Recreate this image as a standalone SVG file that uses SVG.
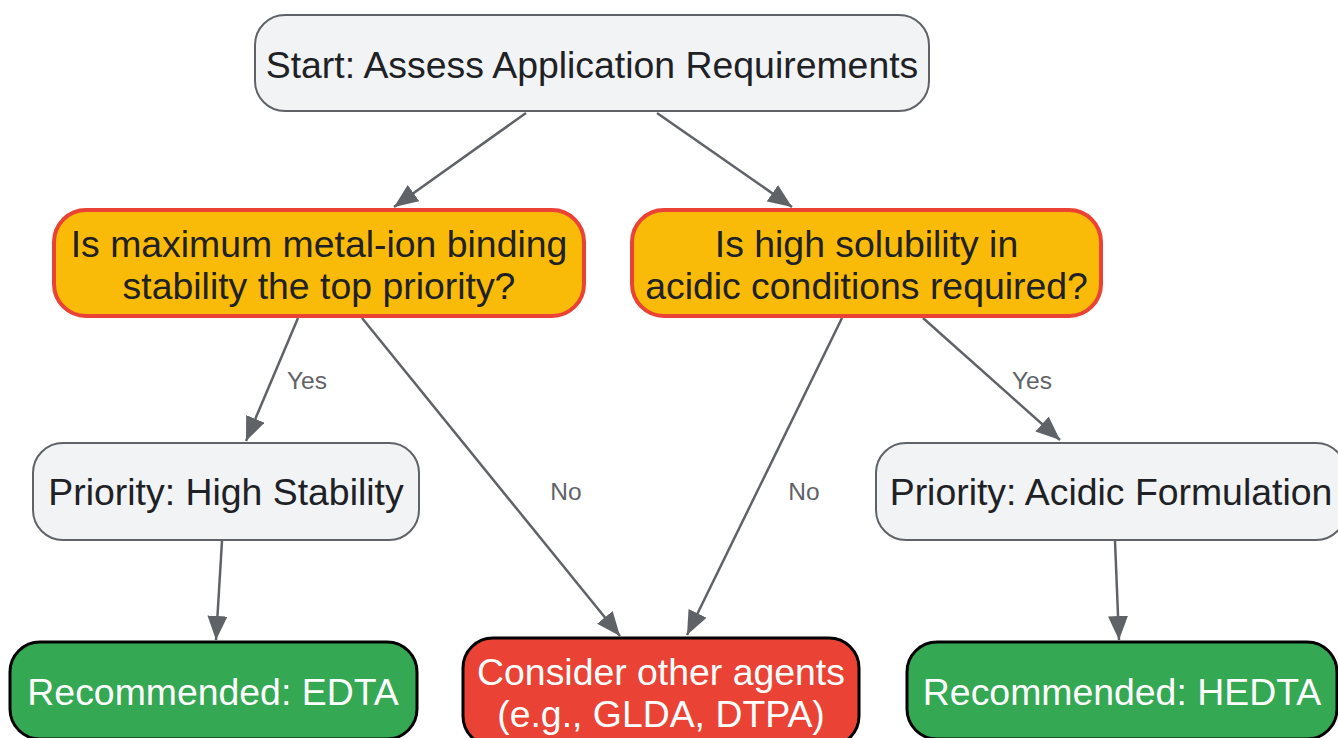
<svg xmlns="http://www.w3.org/2000/svg" width="1338" height="738" viewBox="0 0 1338 738">
<style>
  .gray { fill: #f1f3f5; stroke: #5f6368; stroke-width: 2; }
  .dec { fill: #f9bb07; stroke: #ea4335; stroke-width: 4; }
  .ok { fill: #34a853; stroke: #000000; stroke-width: 3; }
  .alt { fill: #ea4335; stroke: #000000; stroke-width: 3; }
  text { font-family: "Liberation Sans", Arial, sans-serif; font-size: 37.4px; text-anchor: middle; }
  .dark { fill: #202124; }
  .light { fill: #ffffff; }
  .lbl { font-size: 24.5px; fill: #5f6368; }
  .edge { fill: none; stroke: #5f6368; stroke-width: 2.5; marker-end: url(#arr); }
</style>
<defs>
  <marker id="arr" viewBox="0 0 24 20" refX="24" refY="10" markerWidth="24" markerHeight="20" markerUnits="userSpaceOnUse" orient="auto">
    <path d="M0,0 L24,10 L0,20 Z" fill="#5f6368"/>
  </marker>
</defs>
<rect width="1338" height="738" fill="#ffffff"/>
<g id="connectors">
  <line class="edge" x1="526" y1="113" x2="394" y2="207"/>
  <line class="edge" x1="657" y1="113" x2="792" y2="207"/>
  <line class="edge" x1="298" y1="318" x2="246" y2="441"/>
  <line class="edge" x1="362" y1="318" x2="620" y2="636"/>
  <line class="edge" x1="842" y1="318" x2="687" y2="635"/>
  <line class="edge" x1="923" y1="318" x2="1060" y2="440"/>
  <line class="edge" x1="222" y1="541" x2="216" y2="640"/>
  <line class="edge" x1="1115" y1="541" x2="1119" y2="640"/>
  <text class="lbl" x="307" y="389">Yes</text>
  <text class="lbl" x="566" y="500">No</text>
  <text class="lbl" x="804" y="500">No</text>
  <text class="lbl" x="1032" y="389">Yes</text>
</g>
<g id="start">
  <rect class="gray" x="255" y="15" width="674" height="96" rx="30"/>
  <text class="dark" x="592" y="78">Start: Assess Application Requirements</text>
</g>
<g id="q-stability">
  <rect class="dec" x="54" y="210" width="530" height="106" rx="32"/>
  <text class="dark" x="319" y="257">Is maximum metal-ion binding</text>
  <text class="dark" x="319" y="299">stability the top priority?</text>
</g>
<g id="q-acidic">
  <rect class="dec" x="632" y="210" width="469" height="106" rx="32"/>
  <text class="dark" x="866.5" y="257">Is high solubility in</text>
  <text class="dark" x="866.5" y="299">acidic conditions required?</text>
</g>
<g id="p-stability">
  <rect class="gray" x="33" y="443" width="386" height="97" rx="30"/>
  <text class="dark" x="226" y="505">Priority: High Stability</text>
</g>
<g id="p-acidic">
  <rect class="gray" x="876" y="443" width="470" height="97" rx="30"/>
  <text class="dark" x="1111" y="505">Priority: Acidic Formulation</text>
</g>
<g id="r-edta">
  <rect class="ok" x="10" y="642" width="407" height="97" rx="30"/>
  <text class="light" x="213" y="705">Recommended: EDTA</text>
</g>
<g id="r-other">
  <rect class="alt" x="463" y="638" width="396" height="108" rx="30"/>
  <text class="light" x="661" y="685">Consider other agents</text>
  <text class="light" x="661" y="727">(e.g., GLDA, DTPA)</text>
</g>
<g id="r-hedta">
  <rect class="ok" x="907" y="642" width="430" height="97" rx="30"/>
  <text class="light" x="1122" y="705">Recommended: HEDTA</text>
</g>
</svg>
